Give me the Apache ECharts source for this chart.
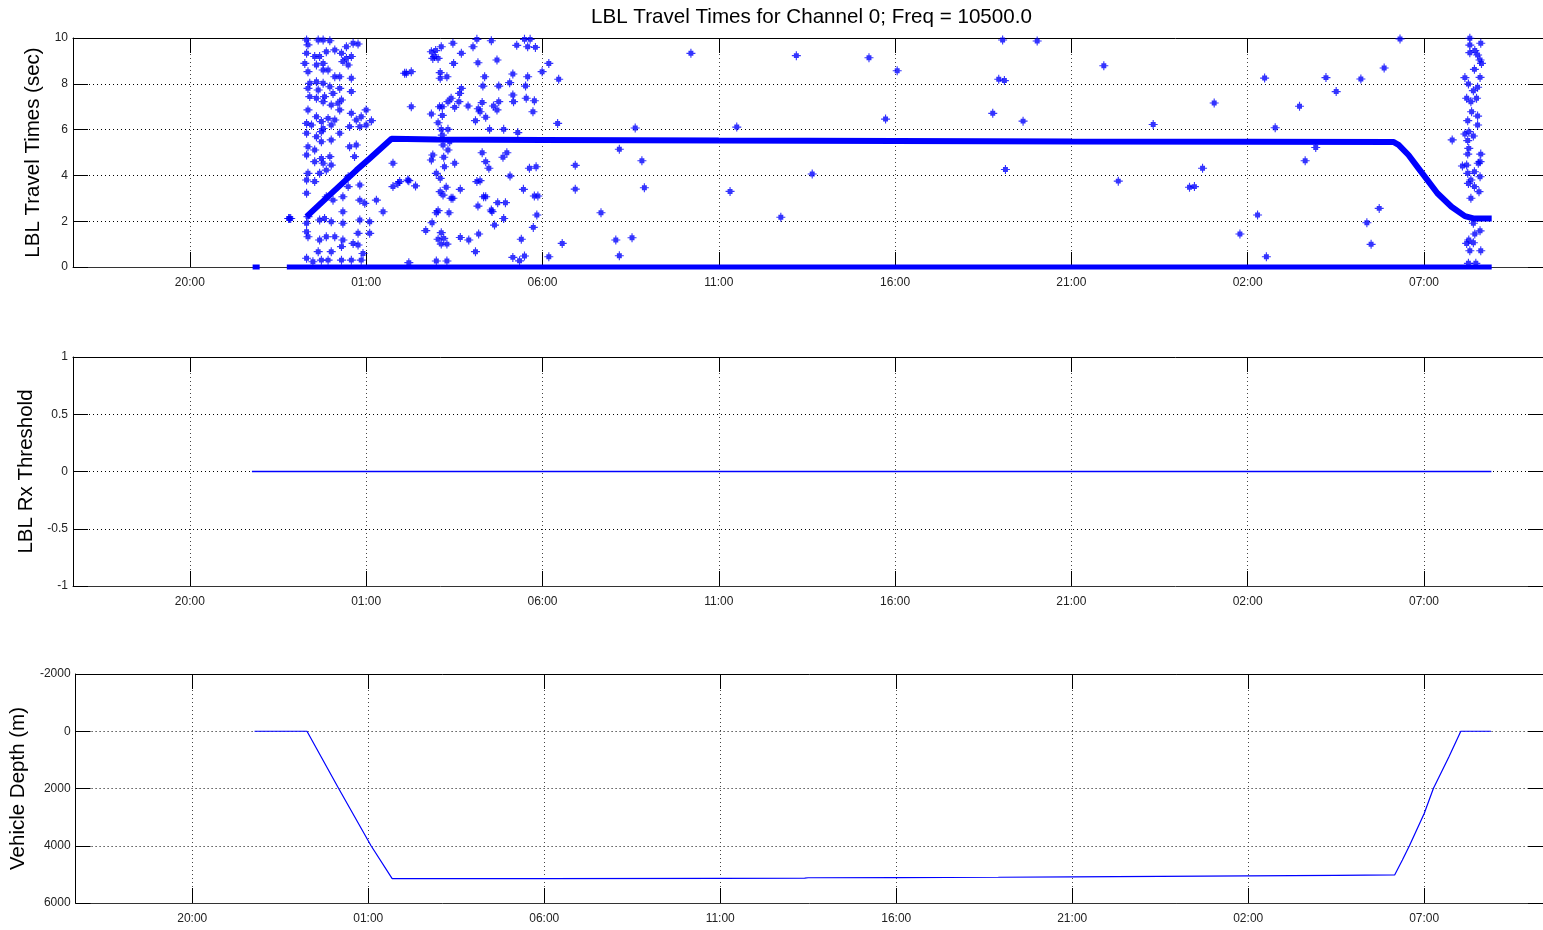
<!DOCTYPE html>
<html>
<head>
<meta charset="utf-8">
<script src="https://cdn.jsdelivr.net/npm/echarts@6/dist/echarts.min.js"></script>
<style>
html,body{margin:0;padding:0;background:#fff;}
#chart{width:1543px;height:930px;}
</style>
</head>
<body>
<div id="chart"></div>
<script>
// ---- Data (x = hours since midnight of day 1) ----
const xTickHours = [20, 25, 30, 35, 40, 45, 50, 55];

// main travel-time track (dense markers)
const travelTrack = [[23.31,2.2],[23.97,3.15],[24.72,4.22],[25.1,4.74],[25.72,5.6],[27,5.57],[30,5.55],[35,5.52],[40,5.5],[45,5.48],[50,5.47],[54.13,5.46],[54.28,5.33],[54.56,4.89],[54.84,4.32],[55.38,3.22],[55.78,2.63],[56.16,2.22],[56.4,2.12],[56.92,2.12]];
// zero-valued returns
const zeroEarly = [[21.78,0],[21.98,0]];
const zeroMain = [[22.75,0],[56.92,0]];

// outliers (hour, seconds)
const outliersDescent = [
[23.31,9.91],[23.35,9.70],[23.64,9.91],[23.78,9.91],[23.97,9.88],[24.44,9.62],[24.63,9.77],[24.77,9.74],
[23.31,9.33],[23.68,9.19],[23.54,9.19],[23.87,9.40],[24.11,9.48],[24.30,9.33],[24.34,8.97],[24.44,9.11],[24.58,9.19],
[23.26,8.89],[23.59,8.82],[23.78,8.89],[24.49,8.82],
[23.35,8.53],[23.78,8.60],[23.92,8.60],[24.11,8.31],[24.25,8.31],[24.58,8.24],[23.59,8.09],[23.78,8.02],[23.40,8.02],
[23.35,7.80],[23.64,7.73],[23.97,7.87],[24.25,7.80],[24.58,7.66],[23.40,7.44],[23.59,7.37],[23.82,7.44],[24.06,7.58],[24.30,7.29],[23.78,7.22],[24.01,7.07],[24.20,7.15],
[23.35,6.86],[23.59,6.56],[23.73,6.35],[23.92,6.49],[24.11,6.42],[24.25,6.86],[24.58,6.71],[24.72,6.42],[24.86,6.56],[25.00,6.86],[25.15,6.39],
[23.31,6.27],[23.45,6.20],[23.78,6.05],[24.01,6.20],[24.53,6.13],[24.82,6.13],[25.00,6.20],
[23.31,5.84],[23.59,5.69],[23.73,5.91],[24.01,5.55],[24.25,5.84],[23.73,5.47],[23.35,5.25],[23.54,5.11],[24.53,5.25],[24.72,5.33],
[23.31,4.89],[23.73,4.74],[23.97,4.82],[24.67,4.82],[23.54,4.60],[23.78,4.53],[24.01,4.45],
[23.35,4.09],[23.68,4.09],[23.87,4.23],[24.49,3.94],[24.82,3.58],[23.31,3.80],[23.54,3.73],[24.49,3.51],
[23.31,3.22],[23.87,3.07],[24.06,2.92],[24.34,3.07],[24.82,2.92],[24.96,2.78],[25.29,2.92],[25.48,2.41],[24.34,2.41],[23.35,2.20],
[22.80,2.12],[22.83,2.12],[22.86,2.12],
[23.31,1.91],[23.68,2.05],[23.82,2.12],[24.01,1.98],[24.34,1.91],[24.82,2.05],[25.10,1.98],
[23.31,1.54],[23.35,1.32],[23.68,1.18],[23.87,1.32],[24.11,1.32],[24.34,1.18],[24.77,1.47],[25.10,1.47],
[24.30,0.89],[24.63,1.03],[24.77,0.96],[23.64,0.67],[24.01,0.67],[24.30,0.30],[24.58,0.30],[24.91,0.59],
[23.31,0.38],[23.49,0.23],[23.73,0.30],[23.92,0.30],[24.86,0.30],
[26.14,8.46],[25.76,4.53],[25.76,3.51],[25.90,3.65],[26.18,3.80]
];
const outliersEarlyBottom = [
[26.09,8.46],[26.28,8.53],[26.28,7.00],[26.85,9.40],[26.94,9.19],[26.89,9.11],[27.04,9.11],[26.97,9.45],[27.13,9.62],[27.46,9.77],[27.70,9.33],[28.03,9.62],[28.14,9.94],[28.55,9.88],[28.17,8.92],[27.48,8.89],[28.71,9.04],[29.27,9.68],[29.49,9.94],[29.65,9.94],[29.58,9.62],[29.80,9.59],[30.18,8.89],[29.99,8.53],[30.46,8.20],
[27.10,8.49],[27.10,8.24],[27.29,8.31],[28.36,8.31],[28.31,7.90],[28.76,7.90],[29.07,8.05],[29.16,8.43],[29.58,8.31],[29.52,7.90],
[27.70,7.80],[27.65,7.58],[27.41,7.37],[27.32,7.22],[27.63,7.22],[27.08,7.00],[27.16,7.00],[26.85,6.68],[27.16,6.62],[27.04,6.30],[27.51,6.97],[27.89,7.03],[28.18,6.91],[28.23,6.78],[28.29,7.18],[28.39,6.54],[28.10,6.39],[28.61,7.03],[28.71,6.86],[28.76,7.22],[29.16,7.51],[29.18,7.22],[29.54,7.37],[29.77,7.26],[29.73,6.78],[30.43,6.27],
[27.13,6.01],[27.32,6.01],[28.50,6.01],[28.90,6.01],[29.30,5.87],[27.16,5.76],[27.18,5.33],[27.37,5.47],
[26.89,4.89],[26.85,4.67],[27.20,4.79],[27.32,5.11],[27.22,4.38],[27.51,4.53],[28.29,4.99],[28.39,4.60],[28.48,4.31],[28.88,4.79],[28.99,4.99],[29.63,4.31],[29.82,4.38],
[26.99,4.09],[27.10,3.87],[25.95,3.73],[26.21,3.77],[26.40,3.54],[28.14,3.73],[28.23,3.77],[29.08,3.97],
[27.10,3.29],[27.18,3.14],[27.27,3.48],[27.41,3.00],[27.46,3.00],[27.67,3.39],[28.33,3.07],[28.39,3.07],[28.17,2.66],[28.73,2.81],[28.95,2.81],[28.55,2.49],[28.57,2.42],[28.90,2.12],[29.46,3.39],[29.77,3.10],[29.87,3.10],[29.84,2.27],
[26.99,2.37],[27.04,2.46],[27.35,2.37],[26.87,1.93],[26.69,1.59],[28.64,1.83],[29.74,1.73],[27.13,1.50],[27.04,1.21],[27.20,1.25],[27.13,1.00],[27.29,1.00],[27.67,1.29],[27.91,1.18],[28.19,1.44],[28.10,0.67],[29.40,1.21],[29.16,0.42],[29.35,0.27],[29.49,0.48],[30.18,0.45],[30.56,1.03],[26.21,0.19],[26.99,0.26],[27.29,0.26]
];
const outliersMid = [
[34.21,9.33],[37.20,9.23],[39.26,9.14],[40.06,8.57],[43.05,9.91],[44.03,9.87],[42.94,8.20],[43.10,8.14],[42.77,6.71],[43.63,6.37],[39.73,6.46],[32.63,6.07],[35.51,6.11],[32.18,5.14],[32.82,4.64],[30.93,4.44],[30.93,3.40],[32.89,3.46],[37.65,4.06],[35.32,3.30],[31.66,2.37],[36.76,2.17],[43.13,4.26],[32.08,1.18],[32.54,1.28],[32.18,0.49],
[45.92,8.79],[49.05,7.16],[47.32,6.22],[50.48,8.25],[52.22,8.27],[53.21,8.21],[53.87,8.69],[54.32,9.96],[52.51,7.66],[51.47,7.02],[50.78,6.08],[51.93,5.22],[51.63,4.64],[46.33,3.75],[48.35,3.48],[48.49,3.51],[48.72,4.31],[50.28,2.27],[49.78,1.44],[50.53,0.45],[53.38,1.93],[53.73,2.56],[53.50,0.99]
];
const outliersAscent = [
[56.30,9.99],[56.30,9.69],[56.61,9.77],[56.44,9.45],[56.30,9.36],[56.52,9.26],[56.59,9.04],[56.63,8.89],[56.43,8.63],[56.16,8.27],[56.59,8.28],[56.26,7.99],[56.40,7.70],[56.52,7.85],[56.21,7.37],[56.33,7.22],[56.49,7.37],[56.35,6.78],[56.52,6.59],[56.24,6.39],[56.52,6.20],[56.27,5.91],[56.16,5.81],[56.40,5.72],[55.80,5.55],[56.24,5.52],[56.27,5.18],[56.24,4.93],[56.61,4.93],[56.09,4.41],[56.21,4.45],[56.54,4.53],[56.59,4.60],[56.24,4.09],[56.43,4.16],[56.59,3.94],[56.33,3.80],[56.26,3.65],[56.43,3.51],[56.56,3.29],[56.33,3.00],[56.40,1.91],[56.59,1.58],[56.44,1.44],[56.27,1.18],[56.21,1.03],[56.40,1.06],[56.30,0.71],[56.61,0.71],[56.26,0.16],[56.47,0.16]
];

// Rx threshold
const thresholdLine = [[21.76,0],[56.91,0]];
// Vehicle depth (m)
const depthLine = [[21.77,0],[23.26,0],[24.16,2000],[25.08,4000],[25.68,5150],[30,5145],[35,5138],[37.4,5132],[37.5,5118],[40,5112],[42.9,5100],[45,5085],[50,5055],[52.5,5038],[54.16,5020],[54.38,4500],[54.58,4000],[55.0,2875],[55.26,2000],[55.7,900],[56.04,0],[56.9,0]];

// ---- Layout ----
const FONT = '"Liberation Sans", Arial, Helvetica, sans-serif';
const X_MIN = 16.686, X_MAX = 58.375;
const BLUE = '#0000ff';
const panels = [
  {top: 38, name: 'LBL Travel Times (sec)', min: 0, max: 10, interval: 2, inverse: false, gap: 22},
  {top: 357, name: 'LBL Rx Threshold', min: -1, max: 1, interval: 0.5, inverse: false, gap: 31},
  {top: 674, name: 'Vehicle Depth (m)', min: -2000, max: 6000, interval: 2000, inverse: true, gap: 43}
];
const hourFmt = v => String(((Math.round(v) % 24) + 24) % 24).padStart(2, '0') + ':00';
const gridDots = {color: '#000', type: [1, 3], width: 1};

const grid = [], xAxis = [], yAxis = [];
panels.forEach((p, i) => {
  grid.push({left: 73, top: p.top, width: 1472, height: 229});
  xAxis.push({
    type: 'value', gridIndex: i, min: X_MIN, max: X_MAX, position: 'bottom',
    axisLine: {show: true, onZero: false, lineStyle: {color: '#333', width: 1}},
    axisTick: {show: true, inside: true, length: 15, customValues: xTickHours, lineStyle: {color: '#000'}},
    axisLabel: {show: true, customValues: xTickHours, formatter: hourFmt, fontSize: 12, color: '#222', margin: 10, fontFamily: FONT},
    splitLine: {show: true, lineStyle: {color: '#444', type: [1, 3], width: 1}}
  });
  xAxis.push({
    type: 'value', gridIndex: i, min: X_MIN, max: X_MAX, position: 'top',
    axisLine: {show: true, onZero: false, lineStyle: {color: '#000', width: 1}},
    axisTick: {show: true, inside: true, length: 15, customValues: xTickHours, lineStyle: {color: '#000'}},
    axisLabel: {show: false}, splitLine: {show: false}
  });
  yAxis.push({
    type: 'value', gridIndex: i, min: p.min, max: p.max, interval: p.interval, inverse: p.inverse, position: 'left',
    name: p.name, nameLocation: 'middle', nameRotate: 90, nameGap: p.gap,
    nameTextStyle: {fontSize: 20.5, color: '#000', fontFamily: FONT},
    axisLine: {show: true, onZero: false, lineStyle: {color: '#000', width: 1}},
    axisTick: {show: true, inside: true, length: 15, lineStyle: {color: '#000'}},
    axisLabel: {show: true, fontSize: 12, color: '#222', margin: 5, fontFamily: FONT, formatter: v => String(v)},
    splitLine: {show: true, lineStyle: gridDots}
  });
  yAxis.push({
    type: 'value', gridIndex: i, min: p.min, max: p.max, interval: p.interval, inverse: p.inverse, position: 'right',
    axisLine: {show: false, onZero: false},
    axisTick: {show: true, inside: true, length: 15, lineStyle: {color: '#000'}},
    axisLabel: {show: false}, splitLine: {show: false}
  });
});

const plusSymbol = 'path://M3.5,0H4.5V1.8H6.2V3.5H8V4.5H6.2V6.2H4.5V8H3.5V6.2H1.8V4.5H0V3.5H1.8V1.8H3.5Z';
const scatterSeries = data => ({
  type: 'scatter', xAxisIndex: 0, yAxisIndex: 0, data: data, symbol: plusSymbol, symbolSize: 9,
  itemStyle: {color: BLUE}, clip: false, silent: true, z: 3
});
const lineSeries = (data, xi, yi, w, z) => ({
  type: 'line', xAxisIndex: xi, yAxisIndex: yi, data: data, showSymbol: false, symbol: 'none',
  lineStyle: {color: BLUE, width: w}, clip: false, silent: true, z: z
});

const option = {
  animation: false,
  backgroundColor: '#fff',
  title: {
    text: 'LBL Travel Times for Channel 0; Freq = 10500.0',
    left: 591, top: 7, padding: 0,
    textStyle: {fontSize: 20.6, fontWeight: 'normal', color: '#000', fontFamily: FONT}
  },
  grid: grid, xAxis: xAxis, yAxis: yAxis,
  series: [
    lineSeries(travelTrack, 0, 0, 6, 4),
    lineSeries(zeroEarly, 0, 0, 5, 4),
    lineSeries(zeroMain, 0, 0, 5, 4),
    scatterSeries(outliersDescent),
    scatterSeries(outliersEarlyBottom),
    scatterSeries(outliersMid),
    scatterSeries(outliersAscent),
    lineSeries(thresholdLine, 2, 2, 1.3, 6),
    lineSeries(depthLine, 4, 4, 1.2, 6)
  ]
};
const chart = echarts.init(document.getElementById('chart'), null, {renderer: 'canvas'});
chart.setOption(option);
</script>
</body>
</html>
